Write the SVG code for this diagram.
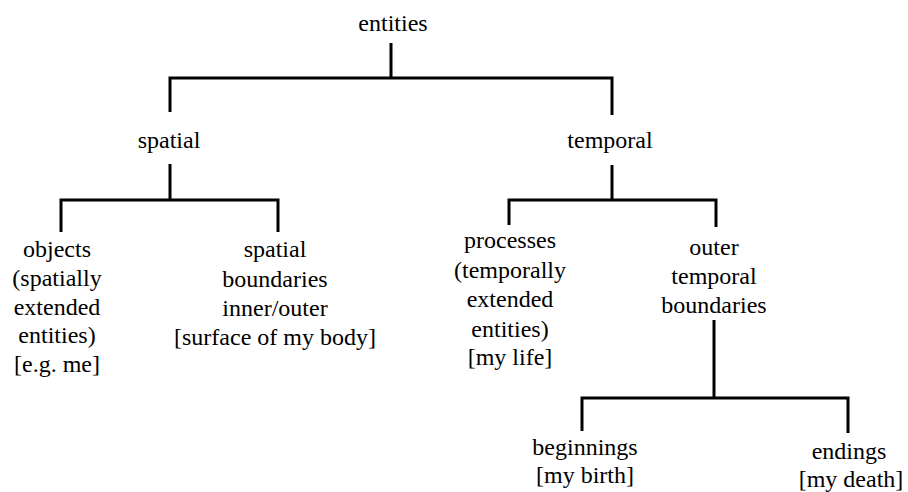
<svg xmlns="http://www.w3.org/2000/svg" width="908" height="492" viewBox="0 0 908 492">
<rect width="908" height="492" fill="#ffffff"/>
<g id="connectors" fill="none" stroke="#000000" stroke-width="3">
<path d="M391,43V78"/>
<path d="M170,112V78H612V115"/>
<path d="M170,164V200"/>
<path d="M61,232V200H278V232"/>
<path d="M612,165V200"/>
<path d="M509,225V200H716V227"/>
<path d="M714,320V398"/>
<path d="M582,431V398H848V433"/>
</g>
<g id="entities"><text style="font-family:'Liberation Serif';font-size:24px;text-anchor:middle" x="393" y="31">entities</text></g>
<g id="spatial"><text style="font-family:'Liberation Serif';font-size:24px;text-anchor:middle" x="169" y="148">spatial</text></g>
<g id="temporal"><text style="font-family:'Liberation Serif';font-size:24px;text-anchor:middle" x="610" y="148">temporal</text></g>
<g id="objects">
<text style="font-family:'Liberation Serif';font-size:24px;text-anchor:middle" x="57" y="257">objects</text>
<text style="font-family:'Liberation Serif';font-size:24px;text-anchor:middle" x="57" y="286">(spatially</text>
<text style="font-family:'Liberation Serif';font-size:24px;text-anchor:middle" x="57" y="315">extended</text>
<text style="font-family:'Liberation Serif';font-size:24px;text-anchor:middle" x="57" y="343">entities)</text>
<text style="font-family:'Liberation Serif';font-size:24px;text-anchor:middle" x="57" y="372">[e.g. me]</text>
</g>
<g id="spatial-boundaries">
<text style="font-family:'Liberation Serif';font-size:24px;text-anchor:middle" x="275" y="257">spatial</text>
<text style="font-family:'Liberation Serif';font-size:24px;text-anchor:middle" x="275" y="287">boundaries</text>
<text style="font-family:'Liberation Serif';font-size:24px;text-anchor:middle" x="275" y="316">inner/outer</text>
<text style="font-family:'Liberation Serif';font-size:24px;text-anchor:middle" x="275" y="345">[surface of my body]</text>
</g>
<g id="processes">
<text style="font-family:'Liberation Serif';font-size:24px;text-anchor:middle" x="510" y="248">processes</text>
<text style="font-family:'Liberation Serif';font-size:24px;text-anchor:middle" x="510" y="278">(temporally</text>
<text style="font-family:'Liberation Serif';font-size:24px;text-anchor:middle" x="510" y="307">extended</text>
<text style="font-family:'Liberation Serif';font-size:24px;text-anchor:middle" x="510" y="337">entities)</text>
<text style="font-family:'Liberation Serif';font-size:24px;text-anchor:middle" x="510" y="365">[my life]</text>
</g>
<g id="outer-temporal-boundaries">
<text style="font-family:'Liberation Serif';font-size:24px;text-anchor:middle" x="714" y="255">outer</text>
<text style="font-family:'Liberation Serif';font-size:24px;text-anchor:middle" x="714" y="284">temporal</text>
<text style="font-family:'Liberation Serif';font-size:24px;text-anchor:middle" x="714" y="313">boundaries</text>
</g>
<g id="beginnings">
<text style="font-family:'Liberation Serif';font-size:24px;text-anchor:middle" x="585" y="455">beginnings</text>
<text style="font-family:'Liberation Serif';font-size:24px;text-anchor:middle" x="585" y="483">[my birth]</text>
</g>
<g id="endings">
<text style="font-family:'Liberation Serif';font-size:24px;text-anchor:middle" x="849" y="459">endings</text>
<text style="font-family:'Liberation Serif';font-size:24px;text-anchor:middle" x="851" y="487">[my death]</text>
</g>
</svg>
